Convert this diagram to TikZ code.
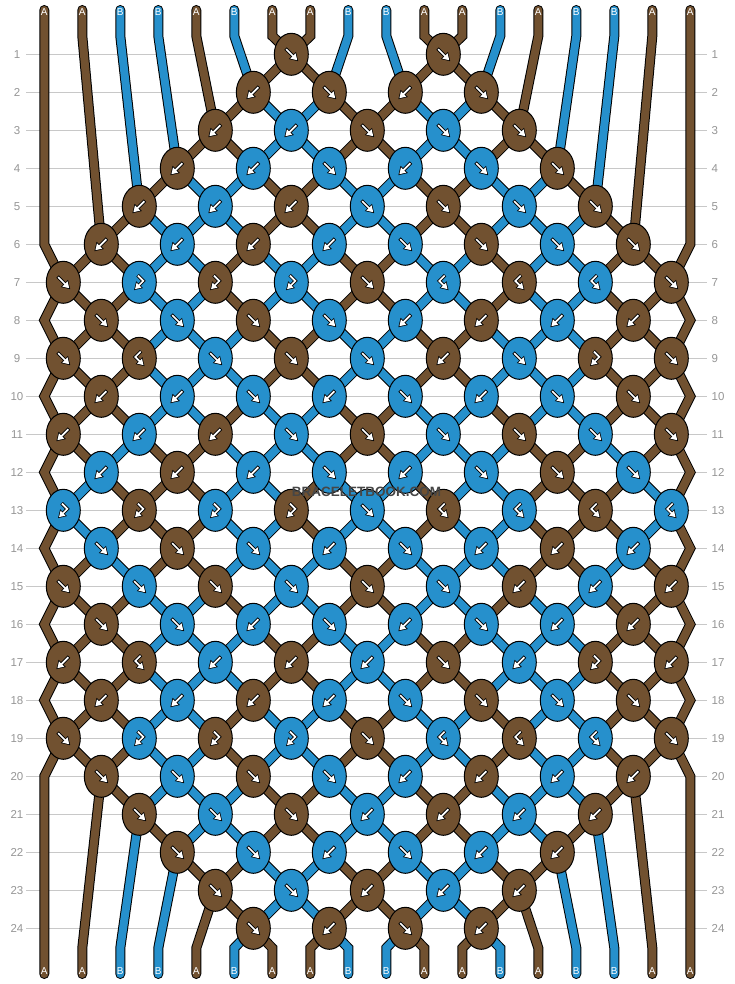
\documentclass[tikz,border=0pt]{standalone}
\usepackage{fontspec}
\setmainfont{Liberation Sans}
\usetikzlibrary{shapes.geometric}
\definecolor{col-a}{RGB}{113,81,48}
\definecolor{col-b}{RGB}{38,144,204}
\colorlet{col-0}{col-a}
\colorlet{col-1}{col-b}
\definecolor{gridc}{RGB}{200,200,200}
\definecolor{labc}{RGB}{150,150,150}
\definecolor{wmark}{RGB}{70,70,70}
\pgfdeclarelayer{gridl}
\pgfdeclarelayer{strl}
\pgfsetlayers{gridl,strl,main}

\def\Farr{{7,6,5,4,3,2,1,1,2,2,1,1,2,3,4,5,6,7}}
\def\Larr{{19,20,21,22,23,24,24,24,24,24,24,24,24,23,22,21,20,19}}
\def\SA{0,0,1,1,0,1,0,0,1,1,0,0,1,0,1,1,0,0}
\def\SB{0,0,1,1,0,0,1,1,0,0,1,1,0,0,1,1,0,0}
\def\SC{0,0,1,0,1,1,0,0,1,1,0,0,1,1,0,1,0,0}
\def\SD{0,0,0,1,1,1,0,0,1,1,0,0,1,1,1,0,0,0}
\def\SE{0,0,0,1,1,0,1,1,0,0,1,1,0,1,1,0,0,0}
\def\SF{0,0,1,0,0,1,1,1,0,0,1,1,1,0,0,1,0,0}
\def\SG{0,1,0,0,0,1,1,0,1,1,0,1,1,0,0,0,1,0}
\newcommand\brmkrow[2]{\expandafter\edef\csname Srow#1\endcsname{{#2}}}
\brmkrow{0}{\SA}\brmkrow{1}{\SA}\brmkrow{2}{\SB}\brmkrow{3}{\SB}\brmkrow{4}{\SC}
\brmkrow{5}{\SD}\brmkrow{6}{\SE}\brmkrow{7}{\SE}\brmkrow{8}{\SD}\brmkrow{9}{\SD}
\brmkrow{10}{\SE}\brmkrow{11}{\SF}\brmkrow{12}{\SG}\brmkrow{13}{\SG}\brmkrow{14}{\SF}
\brmkrow{15}{\SE}\brmkrow{16}{\SD}\brmkrow{17}{\SD}\brmkrow{18}{\SE}\brmkrow{19}{\SE}
\brmkrow{20}{\SD}\brmkrow{21}{\SC}\brmkrow{22}{\SB}\brmkrow{23}{\SB}\brmkrow{24}{\SA}

\newcommand\glyphF{%
  \draw[black, line width=3.4pt] (-5.7,-5.7) -- (2,2);
  \filldraw[black, line width=1.5pt, line join=miter] (5.9,5.9) -- (4.3,-1.0) -- (-1.0,4.3) -- cycle;
  \draw[white, line width=1.7pt] (-5.1,-5.1) -- (2.3,2.3);
  \fill[white] (5.9,5.9) -- (4.3,-1.0) -- (-1.0,4.3) -- cycle;
}
\newcommand\glyphFB{%
  \draw[black, line width=3.4pt, line join=miter] (1.7,-7.1) -- (-4,-1.4) -- (0.6,3.2);
  \filldraw[black, line width=1.5pt, line join=miter] (4.2,6.8) -- (2.71,0.37) -- (-2.23,5.31) -- cycle;
  \draw[white, line width=1.7pt, line join=miter] (1.3,-6.7) -- (-4,-1.4) -- (0.8,3.4);
  \fill[white] (4.2,6.8) -- (2.71,0.37) -- (-2.23,5.31) -- cycle;
}
\newcommand\glyphB{\begin{scope}[xscale=-1]\glyphF\end{scope}}
\newcommand\glyphBF{\begin{scope}[xscale=-1]\glyphFB\end{scope}}

\tikzset{
  knot/.style={ellipse, draw=black, line width=1pt, minimum width=34pt, minimum height=42pt, inner sep=0pt},
  strout/.style={line width=10pt, draw=black, line cap=round, line join=miter},
  strin/.style={line width=8pt, line cap=round, line join=miter},
  rowlab/.style={text=labc, font=\fontsize{11.5}{12}\selectfont, inner sep=0pt},
  strlab/.style={text=white, font=\fontsize{10}{10}\selectfont, inner sep=0pt},
}

\begin{document}
\begin{tikzpicture}[x=1pt,y=-1pt]
\useasboundingbox (0,0) rectangle (734,984);

\begin{pgfonlayer}{gridl}
\fill[white] (0,0) rectangle (734,984);
\foreach \rr in {1,...,24}{
  \pgfmathsetmacro\ry{16.3+38*\rr}
  \draw[gridc, line width=1pt] (26,\ry) -- (707,\ry);
  \node[rowlab] (ll-\rr) at (17,\ry) {\rr};
  \node[rowlab, anchor=west] (rl-\rr) at (711.5,\ry) {\rr};
}
\end{pgfonlayer}

% string end points
\foreach \pp in {0,...,17}{
  \pgfmathsetmacro\px{44.3+38*\pp}
  \coordinate (t-\pp) at (\px,10);
  \coordinate (u-\pp) at (\px,36);
  \coordinate (w-\pp) at (\px,948);
  \coordinate (b-\pp) at (\px,974);
}
\foreach \rr in {6,8,...,20}{
  \pgfmathsetmacro\ry{16.3+38*\rr}
  \coordinate (v-0-\rr) at (44.3,\ry);
  \coordinate (v-17-\rr) at (690.3,\ry);
}

% knots
\foreach \rr/\lst in {
 1/{3/F/a,5/F/a},
 2/{2/B/a,3/F/a,4/B/a,5/F/a},
 3/{2/B/a,3/B/b,4/F/a,5/F/b,6/F/a},
 4/{1/B/a,2/B/b,3/F/b,4/B/b,5/F/b,6/F/a},
 5/{1/B/a,2/B/b,3/B/a,4/F/b,5/F/a,6/F/b,7/F/a},
 6/{0/B/a,1/B/b,2/B/a,3/B/b,4/F/b,5/F/a,6/F/b,7/F/a},
 7/{0/F/a,1/BF/b,2/BF/a,3/BF/b,4/F/a,5/FB/b,6/FB/a,7/FB/b,8/F/a},
 8/{0/F/a,1/F/b,2/F/a,3/F/b,4/B/b,5/B/a,6/B/b,7/B/a},
 9/{0/F/a,1/FB/a,2/F/b,3/F/a,4/F/b,5/B/a,6/F/b,7/BF/a,8/F/a},
 10/{0/B/a,1/B/b,2/F/b,3/B/b,4/F/b,5/B/b,6/F/b,7/F/a},
 11/{0/B/a,1/B/b,2/B/a,3/F/b,4/F/a,5/F/b,6/F/a,7/F/b,8/F/a},
 12/{0/B/b,1/B/a,2/B/b,3/F/b,4/B/b,5/F/b,6/F/a,7/F/b},
 13/{0/BF/b,1/BF/a,2/BF/b,3/BF/a,4/F/b,5/FB/a,6/FB/b,7/FB/a,8/FB/b},
 14/{0/F/b,1/F/a,2/F/b,3/B/b,4/F/b,5/B/b,6/B/a,7/B/b},
 15/{0/F/a,1/F/b,2/F/a,3/F/b,4/F/a,5/F/b,6/B/a,7/B/b,8/B/a},
 16/{0/F/a,1/F/b,2/B/b,3/F/b,4/B/b,5/F/b,6/B/b,7/B/a},
 17/{0/B/a,1/FB/a,2/B/b,3/B/a,4/B/b,5/F/a,6/B/b,7/BF/a,8/B/a},
 18/{0/B/a,1/B/b,2/B/a,3/B/b,4/F/b,5/F/a,6/F/b,7/F/a},
 19/{0/F/a,1/BF/b,2/BF/a,3/BF/b,4/F/a,5/FB/b,6/FB/a,7/FB/b,8/F/a},
 20/{0/F/a,1/F/b,2/F/a,3/F/b,4/B/b,5/B/a,6/B/b,7/B/a},
 21/{1/F/a,2/F/b,3/F/a,4/B/b,5/B/a,6/B/b,7/B/a},
 22/{1/F/a,2/F/b,3/B/b,4/F/b,5/B/b,6/B/a},
 23/{2/F/a,3/F/b,4/B/a,5/B/b,6/B/a},
 24/{2/F/a,3/B/a,4/F/a,5/B/a}}{
  \foreach \kk/\kt/\kc in \lst {
    \pgfmathsetmacro\kx{isodd(\rr) ? 63.3+76*\kk : 101.3+76*\kk}
    \pgfmathsetmacro\ky{16.3+38*\rr}
    \node[knot, fill=col-\kc] (k-\rr-\kk) at (\kx,\ky) {};
    \begin{scope}[shift={(\kx,\ky)}]
      \csname glyph\kt\endcsname
    \end{scope}
  }
}

\begin{pgfonlayer}{strl}
% outer strings (always brown)
\draw[strout] (t-0) -- (v-0-6) -- (k-7-0.center) -- (v-0-8) -- (k-9-0.center) -- (v-0-10) -- (k-11-0.center) -- (v-0-12) -- (k-13-0.center) -- (v-0-14) -- (k-15-0.center) -- (v-0-16) -- (k-17-0.center) -- (v-0-18) -- (k-19-0.center) -- (v-0-20) -- (b-0);
\draw[strin, draw=col-a] (t-0) -- (v-0-6) -- (k-7-0.center) -- (v-0-8) -- (k-9-0.center) -- (v-0-10) -- (k-11-0.center) -- (v-0-12) -- (k-13-0.center) -- (v-0-14) -- (k-15-0.center) -- (v-0-16) -- (k-17-0.center) -- (v-0-18) -- (k-19-0.center) -- (v-0-20) -- (b-0);
\draw[strout] (t-17) -- (v-17-6) -- (k-7-8.center) -- (v-17-8) -- (k-9-8.center) -- (v-17-10) -- (k-11-8.center) -- (v-17-12) -- (k-13-8.center) -- (v-17-14) -- (k-15-8.center) -- (v-17-16) -- (k-17-8.center) -- (v-17-18) -- (k-19-8.center) -- (v-17-20) -- (b-17);
\draw[strin, draw=col-a] (t-17) -- (v-17-6) -- (k-7-8.center) -- (v-17-8) -- (k-9-8.center) -- (v-17-10) -- (k-11-8.center) -- (v-17-12) -- (k-13-8.center) -- (v-17-14) -- (k-15-8.center) -- (v-17-16) -- (k-17-8.center) -- (v-17-18) -- (k-19-8.center) -- (v-17-20) -- (b-17);

% top and bottom ends of inner strings
\foreach \pp/\kc in {1/a,2/b,3/b,4/a,5/b,6/a,7/a,8/b,9/b,10/a,11/a,12/b,13/a,14/b,15/b,16/a}{
  \pgfmathtruncatemacro\fr{\Farr[\pp]}
  \pgfmathtruncatemacro\lr{\Larr[\pp]}
  \pgfmathtruncatemacro\kf{isodd(\fr) ? int(\pp/2) : int((\pp-1)/2)}
  \pgfmathtruncatemacro\kl{isodd(\lr) ? int(\pp/2) : int((\pp-1)/2)}
  \draw[strout] (t-\pp) -- (u-\pp) -- (k-\fr-\kf.center);
  \draw[strin, draw=col-\kc] (t-\pp) -- (u-\pp) -- (k-\fr-\kf.center);
  \draw[strout] (k-\lr-\kl.center) -- (w-\pp) -- (b-\pp);
  \draw[strin, draw=col-\kc] (k-\lr-\kl.center) -- (w-\pp) -- (b-\pp);
}

% segments between knots
\foreach \pp in {1,...,16}{
  \pgfmathtruncatemacro\fr{\Farr[\pp]}
  \pgfmathtruncatemacro\lrm{\Larr[\pp]-1}
  \foreach \rr in {\fr,...,\lrm}{
    \pgfmathtruncatemacro\rn{\rr+1}
    \pgfmathtruncatemacro\ka{isodd(\rr) ? int(\pp/2) : int((\pp-1)/2)}
    \pgfmathtruncatemacro\kz{isodd(\rn) ? int(\pp/2) : int((\pp-1)/2)}
    \expandafter\let\expandafter\Srowcur\csname Srow\rr\endcsname
    \pgfmathtruncatemacro\scol{\Srowcur[\pp]}
    \draw[strout] (k-\rr-\ka.center) -- (k-\rn-\kz.center);
    \draw[strin, draw=col-\scol] (k-\rr-\ka.center) -- (k-\rn-\kz.center);
  }
}
\end{pgfonlayer}

% string letters
\foreach \pp/\kl in {0/A,1/A,2/B,3/B,4/A,5/B,6/A,7/A,8/B,9/B,10/A,11/A,12/B,13/A,14/B,15/B,16/A,17/A}{
  \pgfmathsetmacro\px{44.3+38*\pp}
  \node[strlab] (lt-\pp) at (\px,12.5) {\kl};
  \node[strlab] (lb-\pp) at (\px,971.5) {\kl};
}

\node[font=\bfseries\fontsize{13.5}{14}\selectfont, text=wmark, inner sep=0pt] (wm) at (366.5,491.5) {BRACELETBOOK.COM};
\end{tikzpicture}
\end{document}
